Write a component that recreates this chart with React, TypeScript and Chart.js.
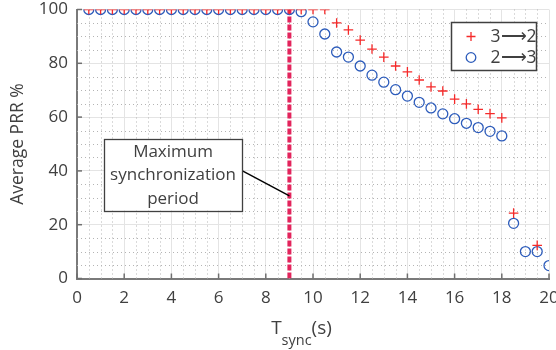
import React, { useEffect, useRef } from "react";
import { Chart, registerables } from "chart.js";

Chart.register(...registerables);

// ---- data ----
const plusX = [0.5, 1, 1.5, 2, 2.5, 3, 3.5, 4, 4.5, 5, 5.5, 6, 6.5, 7, 7.5, 8, 8.5, 9, 9.5, 10, 10.5,
  11, 11.5, 12, 12.5, 13, 13.5, 14, 14.5, 15, 15.5, 16, 16.5, 17, 17.5, 18, 18.5, 19.5];
const plusY = [100, 100, 100, 100, 100, 100, 100, 100, 100, 100, 100, 100, 100, 100, 100, 100, 100, 100, 100, 100, 100,
  95.0, 92.4, 88.6, 85.3, 82.3, 79.0, 76.8, 73.8, 71.2, 69.7, 66.7, 64.9, 62.9, 61.3, 59.7, 24.3, 12.3];

const circleX = [0.5, 1, 1.5, 2, 2.5, 3, 3.5, 4, 4.5, 5, 5.5, 6, 6.5, 7, 7.5, 8, 8.5, 9, 9.5, 10,
  10.5, 11, 11.5, 12, 12.5, 13, 13.5, 14, 14.5, 15, 15.5, 16, 16.5, 17, 17.5, 18, 18.5, 19, 19.5, 20];
const circleY = [100, 100, 100, 100, 100, 100, 100, 100, 100, 100, 100, 100, 100, 100, 100, 100, 100, 100, 99.2, 95.4,
  90.9, 84.2, 82.3, 79.0, 75.6, 73.0, 70.2, 67.8, 65.5, 63.4, 61.2, 59.4, 57.7, 56.1, 54.7, 53.0, 20.5, 10.0, 10.0, 4.8];

const seriesLabels = ["3\u27F62", "2\u27F63"];
const syncPeriodX = [9, 9];
const syncPeriodY = [0, 100];

const xTicks = [0, 2, 4, 6, 8, 10, 12, 14, 16, 18, 20];
const yTicks = [0, 20, 40, 60, 80, 100];
const xMinorStep = 0.5;
const yMinorStep = 5;

const annotationLines = ["Maximum", "synchronization", "period"];
const annotationCenter = { x: 4.07, y: 38.6 };
const annotationTarget = { x: 9, y: 30.7 };

const FONT = "'Open Sans', 'Noto Sans', sans-serif";
const TEXT = "#404040";

const overlay = {
  id: "overlay",
  beforeDatasetsDraw(chart: any) {
    const { ctx, chartArea: a, scales } = chart;
    const xs = scales.x, ys = scales.y;
    ctx.save();
    ctx.strokeStyle = "#b4b4b4";
    ctx.lineWidth = 1;
    ctx.setLineDash([1, 3]);
    for (let v = xs.min + xMinorStep; v < xs.max; v += xMinorStep) {
      if (xTicks.includes(v)) continue;
      const px = Math.round(xs.getPixelForValue(v)) + 0.5;
      ctx.beginPath(); ctx.moveTo(px, a.top); ctx.lineTo(px, a.bottom); ctx.stroke();
    }
    for (let v = ys.min + yMinorStep; v < ys.max; v += yMinorStep) {
      if (yTicks.includes(v)) continue;
      const py = Math.round(ys.getPixelForValue(v)) + 0.5;
      ctx.beginPath(); ctx.moveTo(a.left, py); ctx.lineTo(a.right, py); ctx.stroke();
    }
    ctx.setLineDash([]);
    // inward ticks
    ctx.strokeStyle = "#6f6f6f";
    ctx.lineWidth = 1.5;
    xTicks.forEach((v) => {
      const px = xs.getPixelForValue(v);
      ctx.beginPath(); ctx.moveTo(px, a.bottom); ctx.lineTo(px, a.bottom - 5); ctx.stroke();
    });
    yTicks.forEach((v) => {
      const py = ys.getPixelForValue(v);
      ctx.beginPath(); ctx.moveTo(a.left, py); ctx.lineTo(a.left + 5, py); ctx.stroke();
    });
    ctx.restore();
  },
  afterDraw(chart: any) {
    const { ctx, chartArea: a, scales } = chart;
    const xs = scales.x, ys = scales.y;
    ctx.save();
    ctx.fillStyle = TEXT;
    // y title
    ctx.font = `17.5px ${FONT}`;
    ctx.textAlign = "center";
    ctx.textBaseline = "middle";
    ctx.save();
    ctx.translate(18.5, (a.top + a.bottom) / 2);
    ctx.rotate(-Math.PI / 2);
    ctx.fillText("Average PRR %", 0, 0);
    ctx.restore();
    // x title with subscript
    ctx.textAlign = "left";
    ctx.textBaseline = "alphabetic";
    const big = `19px ${FONT}`, small = `14.5px ${FONT}`;
    ctx.font = big; const wT = ctx.measureText("T").width; const wS = ctx.measureText("(s)").width;
    ctx.font = small; const wSub = ctx.measureText("sync").width;
    const total = wT + wSub + wS;
    let x0 = (a.left + a.right) / 2 - 11.5 - total / 2;
    const base = 334;
    ctx.font = big; ctx.fillText("T", x0, base); x0 += wT;
    ctx.font = small; ctx.fillText("sync", x0, base + 11); x0 += wSub;
    ctx.font = big; ctx.fillText("(s)", x0, base);

    // annotation box
    ctx.font = `17px ${FONT}`;
    const lh = 23.5;
    let maxW = 0;
    annotationLines.forEach((l) => { maxW = Math.max(maxW, ctx.measureText(l).width); });
    const cx = xs.getPixelForValue(annotationCenter.x);
    const cy = ys.getPixelForValue(annotationCenter.y);
    const bw = maxW + 12, bh = lh * annotationLines.length + 1;
    const bx = cx - bw / 2, by = cy - bh / 2;
    const tx = xs.getPixelForValue(annotationTarget.x), ty = ys.getPixelForValue(annotationTarget.y);
    ctx.strokeStyle = "#000";
    ctx.lineWidth = 1.4;
    ctx.beginPath(); ctx.moveTo(bx + bw, cy - 4); ctx.lineTo(tx, ty); ctx.stroke();
    ctx.fillStyle = "#fff";
    ctx.fillRect(bx, by, bw, bh);
    ctx.strokeStyle = "#404040";
    ctx.lineWidth = 1.3;
    ctx.strokeRect(Math.round(bx) + 0.5, Math.round(by) + 0.5, Math.round(bw), Math.round(bh));
    ctx.fillStyle = TEXT;
    ctx.textAlign = "center";
    ctx.textBaseline = "middle";
    annotationLines.forEach((l, i) => {
      ctx.fillText(l, cx, by + lh * (i + 0.5) + 1);
    });

    // legend
    const lx = 451.5, ly = 22.5, lw = 85, lhh = 48;
    ctx.fillStyle = "#fff";
    ctx.fillRect(lx, ly, lw, lhh);
    ctx.strokeStyle = "#404040";
    ctx.lineWidth = 1.5;
    ctx.strokeRect(lx, ly, lw, lhh);
    const ds = chart.data.datasets;
    [0, 1].forEach((i) => {
      const yy = ly + 14 + i * 21;
      const mx = lx + 19.5;
      ctx.strokeStyle = ds[i].borderColor;
      ctx.lineWidth = 1.3;
      ctx.beginPath();
      if (ds[i].pointStyle === "cross") {
        ctx.moveTo(mx - 4.5, yy); ctx.lineTo(mx + 4.5, yy);
        ctx.moveTo(mx, yy - 4.5); ctx.lineTo(mx, yy + 4.5);
      } else {
        ctx.arc(mx, yy, 4.8, 0, Math.PI * 2);
      }
      ctx.stroke();
      ctx.fillStyle = TEXT;
      ctx.textAlign = "left";
      ctx.textBaseline = "middle";
      ctx.font = `17.5px ${FONT}`;
      ctx.fillText(ds[i].label, lx + 39, yy + 1);
    });
    ctx.restore();
  },
};

export default function App() {
  const ref = useRef<HTMLCanvasElement | null>(null);
  useEffect(() => {
    document.body.style.margin = "0";
    const canvas = ref.current!;
    const chart = new Chart(canvas, {
      type: "scatter",
      data: {
        datasets: [
          {
            label: seriesLabels[0],
            data: plusX.map((x, i) => ({ x, y: plusY[i] })),
            pointStyle: "cross",
            pointRadius: 4.8,
            pointBorderWidth: 1.3,
            borderColor: "#f52a2a",
            backgroundColor: "#f52a2a",
            showLine: false,
          },
          {
            label: seriesLabels[1],
            data: circleX.map((x, i) => ({ x, y: circleY[i] })),
            pointStyle: "circle",
            pointRadius: 5,
            pointBorderWidth: 1.3,
            borderColor: "#2d5cbb",
            backgroundColor: "rgba(0,0,0,0)",
            showLine: false,
          },
          {
            label: "sync",
            data: syncPeriodX.map((x, i) => ({ x, y: syncPeriodY[i] })),
            showLine: true,
            borderColor: "#e3245c",
            borderWidth: 4,
            borderDash: [6, 2],
            pointRadius: 0,
            order: 5,
          },
        ],
      } as any,
      options: {
        animation: false,
        responsive: false,
        maintainAspectRatio: false,
        layout: { padding: { top: 9.5, right: 7, left: 0, bottom: 0 } },
        plugins: { legend: { display: false }, tooltip: { enabled: false } },
        scales: {
          x: {
            type: "linear",
            min: 0,
            max: 20,
            afterBuildTicks: (s: any) => { s.ticks = xTicks.map((v) => ({ value: v })); },
            afterFit: (s: any) => { s.height = 71.5; s.paddingRight = 0; s.paddingLeft = 0; },
            ticks: { color: TEXT, font: { family: FONT, size: 17 }, padding: 9, maxRotation: 0, autoSkip: false },
            grid: { color: "#e4e4e4", lineWidth: 1, drawTicks: false },
            border: { color: "#7a7a7a", width: 2 },
          },
          y: {
            type: "linear",
            min: 0,
            max: 100,
            afterBuildTicks: (s: any) => { s.ticks = yTicks.map((v) => ({ value: v })); },
            afterFit: (s: any) => { s.width = 77; s.paddingTop = 0; s.paddingBottom = 0; },
            ticks: { color: TEXT, font: { family: FONT, size: 17 }, padding: 9 },
            grid: { color: "#e4e4e4", lineWidth: 1, drawTicks: false },
            border: { color: "#7a7a7a", width: 2 },
          },
        },
      } as any,
      plugins: [overlay],
    });
    return () => chart.destroy();
  }, []);
  return (
    <div style={{ width: 556, height: 350, background: "#fff" }}>
      <canvas ref={ref} width={556} height={350} style={{ display: "block" }} />
    </div>
  );
}
